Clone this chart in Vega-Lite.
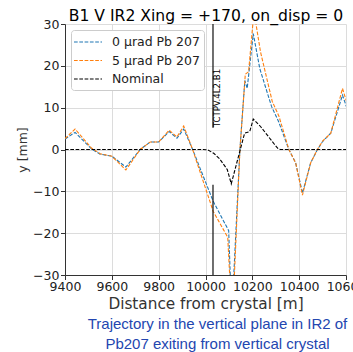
{
  "$schema": "https://vega.github.io/schema/vega-lite/v6.json",
  "autosize": "none",
  "padding": {"left": 65, "top": 24, "right": 7, "bottom": 77},
  "width": 281,
  "height": 251,
  "config": {
    "font": "DejaVu Sans",
    "view": {"stroke": null},
    "axis": {"labelFont": "DejaVu Sans", "titleFont": "DejaVu Sans"}
  },
  "title": {
    "text": ["Trajectory in the vertical plane in IR2 of", "Pb207 exiting from vertical crystal"],
    "orient": "bottom",
    "anchor": "middle",
    "font": "Liberation Sans",
    "fontSize": 15,
    "fontWeight": "normal",
    "color": "#2346b0",
    "lineHeight": 19.5,
    "offset": 6,
    "dx": 12
  },
  "resolve": {"axis": {"x": "independent"}},
  "layer": [
    {
      "data": {"values": [
        {"series": "0 µrad Pb 207", "x": 9400, "y": 2.5},
        {"series": "0 µrad Pb 207", "x": 9443, "y": 4.1},
        {"series": "0 µrad Pb 207", "x": 9514, "y": 0.1},
        {"series": "0 µrad Pb 207", "x": 9550, "y": -1.1},
        {"series": "0 µrad Pb 207", "x": 9600, "y": -1.6},
        {"series": "0 µrad Pb 207", "x": 9660, "y": -4.2},
        {"series": "0 µrad Pb 207", "x": 9721, "y": 0},
        {"series": "0 µrad Pb 207", "x": 9764, "y": 1.8},
        {"series": "0 µrad Pb 207", "x": 9800, "y": 1.8},
        {"series": "0 µrad Pb 207", "x": 9845, "y": 4.3},
        {"series": "0 µrad Pb 207", "x": 9878, "y": 2.7},
        {"series": "0 µrad Pb 207", "x": 9907, "y": 4.9},
        {"series": "0 µrad Pb 207", "x": 9945, "y": 0},
        {"series": "0 µrad Pb 207", "x": 10033, "y": -12.4},
        {"series": "0 µrad Pb 207", "x": 10099, "y": -19.4},
        {"series": "0 µrad Pb 207", "x": 10112, "y": -40},
        {"series": "0 µrad Pb 207", "x": 10147, "y": 0},
        {"series": "0 µrad Pb 207", "x": 10168, "y": 16.5},
        {"series": "0 µrad Pb 207", "x": 10178, "y": 14.6},
        {"series": "0 µrad Pb 207", "x": 10204, "y": 27.7},
        {"series": "0 µrad Pb 207", "x": 10232, "y": 19.3},
        {"series": "0 µrad Pb 207", "x": 10282, "y": 10.3},
        {"series": "0 µrad Pb 207", "x": 10312, "y": 6.7},
        {"series": "0 µrad Pb 207", "x": 10356, "y": 0},
        {"series": "0 µrad Pb 207", "x": 10385, "y": -3.2},
        {"series": "0 µrad Pb 207", "x": 10414, "y": -10.4},
        {"series": "0 µrad Pb 207", "x": 10449, "y": -3.2},
        {"series": "0 µrad Pb 207", "x": 10478, "y": 0},
        {"series": "0 µrad Pb 207", "x": 10500, "y": 1.9},
        {"series": "0 µrad Pb 207", "x": 10535, "y": 3.9},
        {"series": "0 µrad Pb 207", "x": 10585, "y": 13},
        {"series": "0 µrad Pb 207", "x": 10602, "y": 10.2},
        {"series": "5 µrad Pb 207", "x": 9400, "y": 2.6},
        {"series": "5 µrad Pb 207", "x": 9443, "y": 4.9},
        {"series": "5 µrad Pb 207", "x": 9514, "y": 0.3},
        {"series": "5 µrad Pb 207", "x": 9550, "y": -1.0},
        {"series": "5 µrad Pb 207", "x": 9600, "y": -1.6},
        {"series": "5 µrad Pb 207", "x": 9660, "y": -4.9},
        {"series": "5 µrad Pb 207", "x": 9721, "y": 0},
        {"series": "5 µrad Pb 207", "x": 9764, "y": 1.8},
        {"series": "5 µrad Pb 207", "x": 9800, "y": 1.8},
        {"series": "5 µrad Pb 207", "x": 9845, "y": 4.6},
        {"series": "5 µrad Pb 207", "x": 9878, "y": 3.0},
        {"series": "5 µrad Pb 207", "x": 9907, "y": 5.6},
        {"series": "5 µrad Pb 207", "x": 9945, "y": 0},
        {"series": "5 µrad Pb 207", "x": 10033, "y": -14.8},
        {"series": "5 µrad Pb 207", "x": 10095, "y": -21},
        {"series": "5 µrad Pb 207", "x": 10114, "y": -42},
        {"series": "5 µrad Pb 207", "x": 10147, "y": 0},
        {"series": "5 µrad Pb 207", "x": 10170, "y": 18},
        {"series": "5 µrad Pb 207", "x": 10184, "y": 18.6},
        {"series": "5 µrad Pb 207", "x": 10207, "y": 33},
        {"series": "5 µrad Pb 207", "x": 10235, "y": 23.3},
        {"series": "5 µrad Pb 207", "x": 10285, "y": 11.5},
        {"series": "5 µrad Pb 207", "x": 10314, "y": 7.9},
        {"series": "5 µrad Pb 207", "x": 10356, "y": 0},
        {"series": "5 µrad Pb 207", "x": 10385, "y": -3.2},
        {"series": "5 µrad Pb 207", "x": 10414, "y": -10.9},
        {"series": "5 µrad Pb 207", "x": 10449, "y": -3.2},
        {"series": "5 µrad Pb 207", "x": 10478, "y": 0},
        {"series": "5 µrad Pb 207", "x": 10500, "y": 2},
        {"series": "5 µrad Pb 207", "x": 10535, "y": 3.9},
        {"series": "5 µrad Pb 207", "x": 10585, "y": 14.6},
        {"series": "5 µrad Pb 207", "x": 10602, "y": 11.5},
        {"series": "Nominal", "x": 9400, "y": 0},
        {"series": "Nominal", "x": 9990, "y": 0},
        {"series": "Nominal", "x": 10010, "y": -0.1},
        {"series": "Nominal", "x": 10035, "y": -0.9},
        {"series": "Nominal", "x": 10060, "y": -2.2},
        {"series": "Nominal", "x": 10093, "y": -4.8},
        {"series": "Nominal", "x": 10110, "y": -8.2},
        {"series": "Nominal", "x": 10167, "y": 3.9},
        {"series": "Nominal", "x": 10189, "y": 4.3},
        {"series": "Nominal", "x": 10204, "y": 7.3},
        {"series": "Nominal", "x": 10235, "y": 5.5},
        {"series": "Nominal", "x": 10270, "y": 3.0},
        {"series": "Nominal", "x": 10295, "y": 1.2},
        {"series": "Nominal", "x": 10310, "y": 0.2},
        {"series": "Nominal", "x": 10320, "y": 0},
        {"series": "Nominal", "x": 10600, "y": 0}
      ]},
      "mark": {"type": "line", "clip": true, "strokeWidth": 1.1, "strokeDash": [3.7, 1.6]},
      "encoding": {
        "x": {
          "field": "x", "type": "quantitative",
          "scale": {"domain": [9400, 10600], "nice": false, "zero": false},
          "axis": {
            "orient": "bottom",
            "title": "Distance from crystal [m]",
            "values": [9400, 9600, 9800, 10000, 10200, 10400, 10600],
            "format": "d",
            "labelFontSize": 12.5, "labelColor": "#222", "labelPadding": 1,
            "tickSize": 4.5, "tickColor": "#333", "domainColor": "#333",
            "gridColor": "#dcdcdc", "labelFlush": false,
            "titleFontSize": 15.3, "titleFontWeight": "normal", "titleColor": "#333", "titlePadding": 3
          }
        },
        "y": {
          "field": "y", "type": "quantitative",
          "scale": {"domain": [-30, 30], "nice": false},
          "axis": {
            "title": "y [mm]",
            "values": [-30, -20, -10, 0, 10, 20, 30],
            "labelFontSize": 12.5, "labelColor": "#222", "labelPadding": 1.5,
            "tickSize": 4.5, "tickColor": "#333", "domainColor": "#333",
            "gridColor": "#dcdcdc", "labelFlush": false,
            "titleFontSize": 12.5, "titleFontWeight": "normal", "titleColor": "#333", "titlePadding": 3
          }
        },
        "color": {
          "field": "series", "type": "nominal",
          "scale": {"domain": ["0 µrad Pb 207", "5 µrad Pb 207", "Nominal"], "range": ["#1f77b4", "#ff7f0e", "#000000"]},
          "legend": {
            "title": null,
            "orient": "top-left",
            "offset": 6,
            "padding": 4,
            "fillColor": "white",
            "strokeColor": "#cccccc",
            "cornerRadius": 3,
            "symbolType": "M-2,0H2",
            "symbolSize": 196,
            "symbolStrokeWidth": 1.1,
            "symbolDash": [3.7, 1.6],
            "symbolOffset": 5,
            "labelOffset": 16,
            "labelFontSize": 12.5,
            "labelColor": "#222",
            "rowPadding": 3.5
          }
        }
      }
    },
    {
      "data": {"values": [
        {"x": 10032, "y1": 5.2, "y2": 30},
        {"x": 10032, "y1": -30, "y2": -8.4}
      ]},
      "mark": {"type": "rule", "color": "#222", "strokeWidth": 1.3},
      "encoding": {
        "x": {
          "field": "x", "type": "quantitative",
          "axis": {
            "orient": "top",
            "title": "B1 V IR2 Xing = +170, on_disp = 0",
            "labels": false, "ticks": false, "domain": false, "grid": false,
            "titleFontSize": 15.6, "titleFontWeight": "normal", "titleColor": "#000", "titlePadding": 1
          }
        },
        "y": {"field": "y1", "type": "quantitative"},
        "y2": {"field": "y2"}
      }
    },
    {
      "data": {"values": [{"label": "TCTPV.4L2.B1", "x": 10032, "y": 5.3}]},
      "mark": {"type": "text", "angle": 270, "align": "left", "baseline": "alphabetic", "dy": 7, "fontSize": 8.6, "font": "DejaVu Sans", "color": "#000"},
      "encoding": {
        "x": {"field": "x", "type": "quantitative", "axis": null},
        "y": {"field": "y", "type": "quantitative"},
        "text": {"field": "label"}
      }
    }
  ]
}
